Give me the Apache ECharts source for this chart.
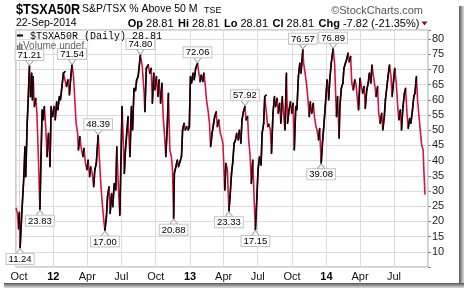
<!DOCTYPE html>
<html><head><meta charset="utf-8">
<script src="https://cdn.jsdelivr.net/npm/echarts@6/dist/echarts.min.js"></script>
<style>html,body{margin:0;padding:0;background:#fff}#c{width:464px;height:288px}</style>
</head><body><div id="c"></div>
<script>
// ---- data ----
const dates = [
'2011-09-23','2011-09-27','2011-09-30','2011-10-02','2011-10-04','2011-10-08','2011-10-14','2011-10-17','2011-10-19','2011-10-23','2011-10-26','2011-10-29',
'2011-11-01','2011-11-04','2011-11-06','2011-11-08','2011-11-11','2011-11-15','2011-11-18','2011-11-23','2011-11-26','2011-11-29',
'2011-12-02','2011-12-05','2011-12-08','2011-12-12','2011-12-15','2011-12-19','2011-12-23','2011-12-26','2011-12-30',
'2012-01-03','2012-01-06','2012-01-10','2012-01-13','2012-01-17','2012-01-20','2012-01-24','2012-01-28',
'2012-02-01','2012-02-05','2012-02-09','2012-02-13','2012-02-16','2012-02-20','2012-02-24','2012-02-27',
'2012-03-02','2012-03-06','2012-03-08','2012-03-12','2012-03-15','2012-03-20','2012-03-23','2012-03-27','2012-03-31',
'2012-04-03','2012-04-07','2012-04-10','2012-04-14','2012-04-18','2012-04-21','2012-04-25','2012-04-30',
'2012-05-04','2012-05-07','2012-05-11','2012-05-15','2012-05-18','2012-05-22','2012-05-25','2012-05-29',
'2012-06-01','2012-06-05','2012-06-08','2012-06-12','2012-06-16','2012-06-19','2012-06-23','2012-06-27',
'2012-07-03','2012-07-09','2012-07-12','2012-07-19','2012-07-24','2012-07-28','2012-07-31',
'2012-08-04','2012-08-08','2012-08-11','2012-08-15','2012-08-21','2012-08-26','2012-08-31',
'2012-09-02','2012-09-06','2012-09-11','2012-09-15','2012-09-19','2012-09-22','2012-09-26','2012-09-29',
'2012-10-03','2012-10-07','2012-10-10','2012-10-14','2012-10-18','2012-10-21','2012-10-25','2012-10-28',
'2012-11-01','2012-11-04','2012-11-08','2012-11-12','2012-11-15','2012-11-18','2012-11-20','2012-11-24','2012-11-28',
'2012-12-01','2012-12-05','2012-12-09','2012-12-12','2012-12-16','2012-12-19','2012-12-23','2012-12-27','2012-12-30',
'2013-01-02','2013-01-05','2013-01-09','2013-01-12','2013-01-16','2013-01-21','2013-01-24','2013-01-28','2013-01-31',
'2013-02-04','2013-02-07','2013-02-11','2013-02-14','2013-02-18','2013-02-22','2013-02-25',
'2013-03-01','2013-03-05','2013-03-08','2013-03-12','2013-03-15','2013-03-19','2013-03-23','2013-03-26','2013-03-30',
'2013-04-04','2013-04-07','2013-04-11','2013-04-15','2013-04-18','2013-04-22','2013-04-25','2013-04-29',
'2013-05-02','2013-05-06','2013-05-10','2013-05-13','2013-05-17','2013-05-20','2013-05-24','2013-05-28','2013-05-31',
'2013-06-04','2013-06-07','2013-06-11','2013-06-14','2013-06-18','2013-06-22','2013-06-25','2013-06-29',
'2013-07-02','2013-07-06','2013-07-10','2013-07-13','2013-07-17','2013-07-20','2013-07-24','2013-07-28','2013-07-31',
'2013-08-04','2013-08-07','2013-08-11','2013-08-15','2013-08-18','2013-08-22','2013-08-25','2013-08-29',
'2013-09-01','2013-09-05','2013-09-09','2013-09-12','2013-09-16','2013-09-19','2013-09-23','2013-09-27','2013-09-30',
'2013-10-04','2013-10-07','2013-10-11','2013-10-14','2013-10-18','2013-10-22','2013-10-25','2013-10-30',
'2013-11-01','2013-11-05','2013-11-09','2013-11-12','2013-11-16','2013-11-19','2013-11-23','2013-11-27','2013-11-30',
'2013-12-04','2013-12-07','2013-12-11','2013-12-14','2013-12-18','2013-12-22','2013-12-25','2013-12-29',
'2014-01-01','2014-01-03','2014-01-07','2014-01-10','2014-01-14','2014-01-19','2014-01-23','2014-01-26','2014-01-28','2014-01-31',
'2014-02-04','2014-02-06','2014-02-10','2014-02-14','2014-02-17','2014-02-21','2014-02-24','2014-02-28',
'2014-03-03','2014-03-07','2014-03-10','2014-03-14','2014-03-18','2014-03-21','2014-03-25','2014-03-28',
'2014-04-01','2014-04-05','2014-04-08','2014-04-12','2014-04-15','2014-04-19','2014-04-23','2014-04-26','2014-04-30',
'2014-05-03','2014-05-07','2014-05-11','2014-05-14','2014-05-18','2014-05-21','2014-05-25','2014-05-29',
'2014-06-01','2014-06-05','2014-06-08','2014-06-12','2014-06-15','2014-06-19','2014-06-23','2014-06-26','2014-06-30',
'2014-07-03','2014-07-07','2014-07-11','2014-07-14','2014-07-18','2014-07-21','2014-07-25','2014-07-29',
'2014-08-01','2014-08-05','2014-08-08','2014-08-12','2014-08-15','2014-08-19','2014-08-23','2014-08-26','2014-08-30',
'2014-09-02','2014-09-06','2014-09-10','2014-09-13','2014-09-17','2014-09-19','2014-09-22'
];
const values = [
24.5,22.5,17.5,23,11.24,21.5,34.7,44.6,34.7,52.3,61.1,71.21,
61,68.8,60,67.7,57.8,60.5,55.6,37,23.83,41.3,
56.7,53.4,57.8,50.1,41.3,49,38,57.8,54.5,
57.8,53.4,59.4,56.7,61.1,60,64.4,68.8,
69.3,64.4,66.6,61.6,66.6,71.54,67.7,61.1,
52.3,49,43.5,47.9,44.6,41.3,44.1,39.1,37,
40.2,34.7,38,35.8,31.4,37,39.1,48.39,
39.1,32.5,25.9,20.4,17.00,21.5,28.1,31.4,
22.6,29.2,24.8,32.5,30.3,44.6,31.4,22,
57.8,35.8,43.5,54.5,41.3,57.8,50.1,
63.8,63,66.6,67.7,74.80,71,62.2,
56.1,70.4,71.5,68.8,70.4,58.9,68.8,63.3,
67.7,61.1,66.6,58.9,65.5,54.5,47.9,41.3,
51.2,62.2,43.5,41.3,37,20.88,35.8,38,40.2,
38,39.7,41.3,50.1,52.3,50.1,51.2,50.1,51.2,
67.7,65.5,68.8,66.6,70.4,72.06,69.3,66,68.2,
66,68.8,64.4,60,56.7,52.3,44.6,
49,52.3,54.5,56.1,51.2,53.4,49,47.9,45.7,
30.3,39.1,37,23.33,28.1,35.8,39.1,45.7,
46.5,49,46.8,50.1,45.7,53.4,56.1,57.92,53.4,
54.5,46.8,41.3,32.5,40.2,25.9,17.15,28.1,
37,41.3,38.5,49,52.3,61.1,61.6,51.2,52,
50.1,42.4,55.6,61.1,57.8,60.5,55.6,58.9,
52.3,61.1,54.5,50.1,68.8,52.3,56.7,59.4,55.6,
58.9,43.5,57.8,56.7,67.7,72.1,68.8,76.57,
72.1,68.8,65,61.1,54.5,59.4,55.6,58.9,54.5,
51.2,50.1,46.8,50.6,39.08,46.8,51.2,57.8,
63.3,66.6,60,66.6,72.1,76.89,72.1,61.1,54.5,61.1,
47.4,57.8,63.8,65.5,70.4,72.1,73.2,75.4,
72.5,74.3,65.5,63.3,66.6,65.5,60,56.7,
67.1,66.6,62.2,64.4,57.2,63.3,65.5,68.8,65.5,
71.5,67.7,64.4,61.1,64.4,55.6,52.3,55.6,
50.1,54.5,60,64.4,67.7,71.5,67.7,61.1,66.6,
70.4,65.5,57.8,53.4,56.7,50.1,57.8,62.2,
63.8,55,50.6,53.9,52.3,56.1,61.1,62.2,67.7,
60,54.5,49,45.2,43.5,36.63,28.81
];
const peakDates = ['2011-10-29','2012-02-20','2012-04-30','2012-08-21','2013-01-21','2013-05-28','2013-10-30','2014-01-19'];
const peakValues = [71.21,71.54,48.39,74.80,72.06,57.92,76.57,76.89];
const troughDates = ['2011-10-04','2011-11-26','2012-05-18','2012-11-18','2013-04-15','2013-06-25','2013-12-18'];
const troughValues = [11.24,23.83,17.00,20.88,23.33,17.15,39.08];
const monthNames = ['Jan','Feb','Mar','Apr','May','Jun','Jul','Aug','Sep','Oct','Nov','Dec'];
const xMin = '2011-09-23', xMax = '2014-09-30';
const yMin = 5, yMax = 83, yStep = 5;

// ---- build ----
const t = s => Date.parse(s + 'T00:00:00Z');
const DAY = 86400000;
const FONT = 'Liberation Sans, Arial, sans-serif';
const RED = '#d6143c';
const lineData = dates.map((d, i) => [t(d), values[i]]);
const upSegs = [];
for (let i = 1; i < values.length; i++) {
  if (values[i] > values[i - 1]) upSegs.push([t(dates[i - 1]), values[i - 1], t(dates[i]), values[i]]);
}
const boxLabel = {
  show: true, formatter: '{c}', fontFamily: FONT, fontSize: 9.5, lineHeight: 9, color: '#000',
  backgroundColor: '#fff', borderColor: '#c4c4c4', borderWidth: 1, padding: [1, 2, 0, 2], distance: 0
};
const markData = [];
peakDates.forEach((d, i) => markData.push({
  coord: [t(d), peakValues[i]], value: peakValues[i].toFixed(2),
  symbol: 'path://M0,0 L10,0 L5,6 Z', symbolSize: [8, 5], symbolOffset: [0, -3],
  label: Object.assign({}, boxLabel, { position: 'top' })
}));
troughDates.forEach((d, i) => markData.push({
  coord: [t(d), troughValues[i]], value: troughValues[i].toFixed(2),
  symbol: 'path://M5,0 L10,6 L0,6 Z', symbolSize: [8, 5], symbolOffset: [0, 3],
  label: Object.assign({}, boxLabel, { position: 'bottom' })
}));

const hdr = (x, label, val) => ({
  type: 'text', x: x, y: 18,
  style: { text: '{b|' + label + '} ' + val, font: '11px ' + FONT, fill: '#000', rich: { b: { fontWeight: 'bold', fontSize: 11, fontFamily: FONT } } }
});

const chart = echarts.init(document.getElementById('c'), null, { renderer: 'canvas' });
chart.setOption({
  animation: false,
  useUTC: true,
  backgroundColor: '#fff',
  textStyle: { fontFamily: FONT },
  grid: { left: 16, right: 36, top: 30, bottom: 21, show: true, borderColor: '#a0a0a0', borderWidth: 1, outerBoundsMode: 'none', containLabel: false },
  xAxis: {
    type: 'time', min: t(xMin), max: t(xMax), splitNumber: 12,
    minInterval: 80 * DAY, maxInterval: 100 * DAY,
    axisLine: { show: false }, axisTick: { show: false },
    splitLine: { show: true, lineStyle: { color: '#dcdcdc', width: 1 } },
    axisLabel: {
      margin: 4, fontSize: 11, color: '#111', hideOverlap: false, showMinLabel: false, showMaxLabel: false,
      formatter: v => {
        const dt = new Date(v);
        if (dt.getUTCDate() !== 1) return '';
        const m = dt.getUTCMonth();
        if (m === 0) return '{y|' + String(dt.getUTCFullYear() % 100).padStart(2, '0') + '}';
        return monthNames[m];
      },
      rich: { y: { fontWeight: 'bold', fontSize: 11, color: '#000' } }
    }
  },
  yAxis: {
    type: 'value', position: 'right', min: yMin, max: yMax, interval: yStep,
    axisLine: { show: false },
    axisTick: { show: true, length: 3, lineStyle: { color: '#888' } },
    splitLine: { show: true, lineStyle: { color: '#dcdcdc', width: 1 } },
    axisLabel: { margin: 4, fontSize: 11, color: '#222', formatter: v => (v >= 10 && v <= 80) ? String(v) : '' }
  },
  series: [
    { type: 'line', data: lineData, showSymbol: false, lineStyle: { color: RED, width: 1.6 }, z: 2, clip: true },
    {
      type: 'custom', data: upSegs, z: 3, clip: true,
      encode: { x: [0, 2], y: [1, 3] },
      renderItem: (params, api) => {
        const p0 = api.coord([api.value(0), api.value(1)]);
        const p1 = api.coord([api.value(2), api.value(3)]);
        return { type: 'line', shape: { x1: p0[0], y1: p0[1], x2: p1[0], y2: p1[1] },
          style: { stroke: '#000', lineWidth: 1.6, lineCap: 'round' } };
      }
    },
    { type: 'scatter', data: [], z: 5, markPoint: { data: markData, itemStyle: { color: '#fff', borderColor: '#aaa', borderWidth: 1 } } }
  ],
  graphic: [
    { type: 'text', x: 16, y: 3, scaleX: 0.905, style: { text: '$TSXA50R', font: 'bold 14px ' + FONT, fill: '#000' } },
    { type: 'text', x: 82, y: 4, style: { text: 'S&P/TSX % Above 50 M', font: '10.5px ' + FONT, fill: '#000' } },
    { type: 'text', x: 204, y: 6, style: { text: 'TSE', font: '9px ' + FONT, fill: '#000' } },
    { type: 'text', right: 41, top: 5, style: { text: '\u00A9StockCharts.com', font: '11px ' + FONT, fill: '#555' } },
    { type: 'text', x: 16, y: 18, style: { text: '22-Sep-2014', font: '10.5px ' + FONT, fill: '#000' } },
    hdr(127.7, 'Op', '28.81'),
    hdr(178, 'Hi', '28.81'),
    hdr(224, 'Lo', '28.81'),
    hdr(272.5, 'Cl', '28.81'),
    hdr(318.5, 'Chg', '-7.82 (-21.35%)'),
    { type: 'polygon', shape: { points: [[421.5, 21.5], [427.5, 21.5], [424.5, 25.5]] }, style: { fill: '#8b0a2a' } },
    { type: 'rect', shape: { x: 17, y: 34.5, width: 6, height: 2 }, style: { fill: '#000' }, z: 10 },
    { type: 'text', x: 30, y: 31, z: 10, style: { text: '$TSXA50R (Daily) 28.81', font: '10px Liberation Mono, monospace', fill: '#000' } },
    { type: 'rect', shape: { x: 17, y: 45, width: 1.5, height: 5 }, style: { fill: '#777' }, z: 10 },
    { type: 'rect', shape: { x: 19, y: 43, width: 1.5, height: 7 }, style: { fill: '#777' }, z: 10 },
    { type: 'rect', shape: { x: 21, y: 44, width: 1.5, height: 6 }, style: { fill: '#777' }, z: 10 },
    { type: 'text', x: 23, y: 41, z: 10, style: { text: 'Volume undef', font: '10px ' + FONT, fill: '#666' } },
    { type: 'rect', shape: { x: 459, y: 6, width: 5, height: 282 }, style: { fill: new echarts.graphic.LinearGradient(0, 0, 1, 0, [{ offset: 0, color: '#555' }, { offset: 1, color: '#ddd' }]) } },
    { type: 'rect', shape: { x: 4, y: 283, width: 460, height: 5 }, style: { fill: new echarts.graphic.LinearGradient(0, 0, 0, 1, [{ offset: 0, color: '#555' }, { offset: 1, color: '#ddd' }]) } }
  ]
});
</script></body></html>
